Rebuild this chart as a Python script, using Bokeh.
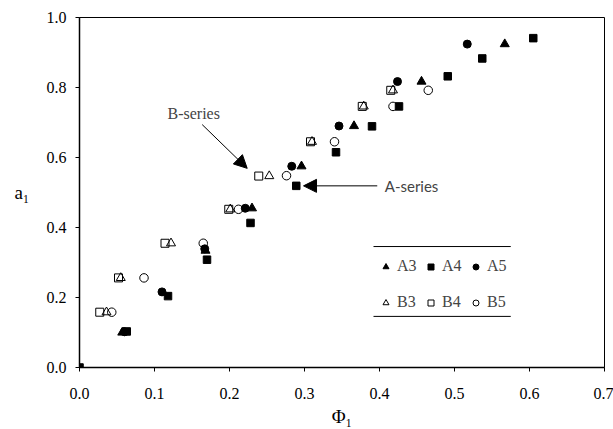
from bokeh.plotting import figure
from bokeh.models import (Range1d, FixedTicker, Legend, LegendItem, Label, Arrow,
                          NormalHead)
from bokeh.embed import file_html
from bokeh.resources import INLINE

# ---------------- data ----------------
A3_x = [0.057, 0.168, 0.230, 0.296, 0.366, 0.456, 0.567]
A3_y = [0.100, 0.334, 0.455, 0.575, 0.690, 0.817, 0.924]
A4_x = [0.000, 0.063, 0.118, 0.170, 0.228, 0.289, 0.342, 0.390, 0.426, 0.491, 0.537, 0.605]
A4_y = [0.000, 0.103, 0.204, 0.308, 0.413, 0.519, 0.615, 0.689, 0.746, 0.832, 0.883, 0.941]
A5_x = [0.060, 0.110, 0.167, 0.221, 0.283, 0.346, 0.424, 0.517]
A5_y = [0.102, 0.216, 0.339, 0.455, 0.575, 0.690, 0.817, 0.924]
B3_x = [0.036, 0.055, 0.122, 0.201, 0.253, 0.310, 0.379, 0.418]
B3_y = [0.158, 0.256, 0.355, 0.452, 0.547, 0.645, 0.746, 0.792]
B4_x = [0.027, 0.052, 0.114, 0.199, 0.239, 0.308, 0.377, 0.415]
B4_y = [0.158, 0.256, 0.355, 0.452, 0.547, 0.645, 0.746, 0.792]
B5_x = [0.043, 0.086, 0.165, 0.212, 0.276, 0.340, 0.418, 0.465]
B5_y = [0.158, 0.256, 0.355, 0.452, 0.548, 0.645, 0.746, 0.792]

x_ticks = [0.0, 0.1, 0.2, 0.3, 0.4, 0.5, 0.6, 0.7]
x_tick_labels = ["0.0", "0.1", "0.2", "0.3", "0.4", "0.5", "0.6", "0.7"]
y_ticks = [0.0, 0.2, 0.4, 0.6, 0.8, 1.0]
y_tick_labels = ["0.0", "0.2", "0.4", "0.6", "0.8", "1.0"]

series_names = ["A3", "A4", "A5", "B3", "B4", "B5"]
x_title = "Φ₁"
y_title = "a₁"

# ---------------- figure ----------------
SERIF = "Liberation Serif"
p = figure(width=613, height=429, output_backend="svg", toolbar_location=None,
           x_range=Range1d(0, 0.7), y_range=Range1d(0, 1.0),
           min_border_left=79, min_border_right=9, min_border_top=17, min_border_bottom=61)
p.grid.visible = False
p.outline_line_color = "black"
p.outline_line_width = 1
p.background_fill_color = "white"
p.border_fill_color = "white"

for ax in (p.xaxis[0], p.yaxis[0]):
    ax.axis_line_color = "black"
    ax.axis_line_width = 1.5
    ax.major_tick_line_color = "black"
    ax.major_tick_out = 4
    ax.major_tick_in = 0
    ax.minor_tick_line_color = None
    ax.major_label_text_font = SERIF
    ax.major_label_text_font_size = "16px"
    ax.major_label_text_color = "black"
    ax.axis_label_text_font = SERIF
    ax.axis_label_text_font_style = "normal"
    ax.axis_label_text_font_size = "19px"
    ax.axis_label_text_color = "black"

p.xaxis.ticker = FixedTicker(ticks=x_ticks)
p.xaxis.major_label_overrides = {t: l for t, l in zip(x_ticks, x_tick_labels)}
p.xaxis.major_label_standoff = 16
p.xaxis.axis_label = x_title
p.xaxis.axis_label_standoff = 4

p.yaxis.ticker = FixedTicker(ticks=y_ticks)
p.yaxis.major_label_overrides = {t: l for t, l in zip(y_ticks, y_tick_labels)}
p.yaxis.major_label_standoff = 9
p.yaxis.axis_label = y_title
p.yaxis.axis_label_standoff = 14
try:
    p.yaxis.axis_label_orientation = "horizontal"
except Exception:
    pass

# ---------------- data markers ----------------
rA3 = p.scatter(A3_x, A3_y, marker="triangle", size=9, fill_color="black", line_color="black")
rA4 = p.scatter(A4_x, A4_y, marker="square", size=7.5, fill_color="black", line_color="black")
rA5 = p.scatter(A5_x, A5_y, marker="circle", size=8, fill_color="black", line_color="black")
rB3 = p.scatter(B3_x, B3_y, marker="triangle", size=9, fill_color=None, line_color="black", line_width=1)
rB4 = p.scatter(B4_x, B4_y, marker="square", size=8, fill_color=None, line_color="black", line_width=1)
rB5 = p.scatter(B5_x, B5_y, marker="circle", size=8.5, fill_color=None, line_color="black", line_width=1)
renderers = [rA3, rA4, rA5, rB3, rB4, rB5]

# ---------------- legend ----------------
legend = Legend(items=[LegendItem(label=n, renderers=[r]) for n, r in zip(series_names, renderers)],
                orientation="horizontal", ncols=3,
                location=(299, 50),
                glyph_width=15, glyph_height=15, label_standoff=4, spacing=6,
                label_height=30, padding=0, margin=0,
                label_text_font=SERIF, label_text_font_size="16px",
                border_line_alpha=0, background_fill_alpha=0)
p.add_layout(legend, "center")
# top and bottom rules of the legend box
p.segment(x0=[0.392, 0.392], y0=[0.3456, 0.146], x1=[0.575, 0.575], y1=[0.3456, 0.146],
          line_color="black", line_width=1)

# ---------------- annotations ----------------
p.add_layout(Label(x=0.1173, y=0.727, text="B-series", text_font=SERIF,
                   text_font_size="16px", text_baseline="middle", text_align="left"))
p.add_layout(Arrow(end=NormalHead(size=13, fill_color="black", line_color="black"),
                   x_start=0.1636, y_start=0.694, x_end=0.2236, y_end=0.569,
                   line_color="black", line_width=1))
p.add_layout(Label(x=0.407, y=0.519, text="A-series", text_font="Lato",
                   text_font_size="15px", text_baseline="middle", text_align="left"))
p.add_layout(Arrow(end=NormalHead(size=13, fill_color="black", line_color="black"),
                   x_start=0.397, y_start=0.519, x_end=0.2987, y_end=0.519,
                   line_color="black", line_width=1))

open("out.html", "w").write(file_html(p, INLINE))
